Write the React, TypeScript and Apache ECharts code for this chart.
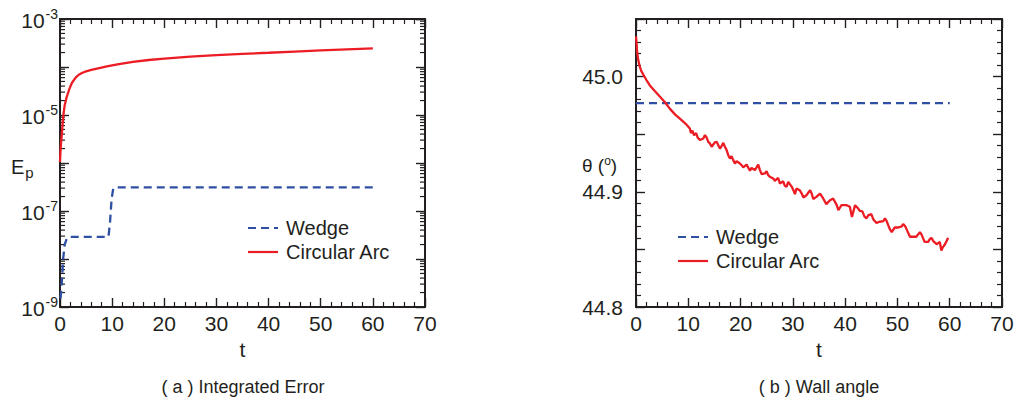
import React, { useEffect, useRef } from "react";
import * as echarts from "echarts";

// ---------- data ----------
const xTickValues = [0, 10, 20, 30, 40, 50, 60, 70];

// Left panel: integrated error E_p vs t (log scale)
const errWedge: [number, number][] = [
  [0.1, 1.5e-9], [0.2, 2.0e-9], [0.4, 4.0e-9], [0.6, 1.0e-8], [0.9, 2.0e-8],
  [1.3, 2.7e-8], [2.0, 2.9e-8], [9.3, 2.9e-8], [9.6, 6.0e-8], [9.9, 1.8e-7],
  [10.2, 2.9e-7], [10.6, 3.1e-7], [60, 3.1e-7],
];
const errArc: [number, number][] = [
  [0, 1.05e-6], [0.1, 1.8e-6], [0.2, 2.6e-6], [0.35, 4.0e-6], [0.5, 6.5e-6],
  [0.65, 1.0e-5], [0.9, 1.6e-5], [1.3, 2.4e-5], [1.8, 3.5e-5], [2.3, 4.7e-5],
  [3.0, 6.0e-5], [3.6, 6.9e-5], [4.3, 7.6e-5], [5.0, 8.1e-5], [6.0, 8.7e-5],
  [7.3, 9.4e-5], [9.0, 1.03e-4], [11, 1.13e-4], [14, 1.28e-4], [17, 1.4e-4],
  [20, 1.5e-4], [25, 1.65e-4], [30, 1.77e-4], [35, 1.88e-4], [40, 1.98e-4],
  [45, 2.1e-4], [50, 2.22e-4], [55, 2.33e-4], [60, 2.45e-4],
];

// Right panel: wall angle theta vs t
const angleWedge: [number, number][] = [[0, 44.977], [60, 44.977]];
const angleArc: [number, number][] = [
  [0, 45.035], [0.1, 45.03], [0.2, 45.022], [0.4, 45.015], [0.7, 45.009],
  [1.0, 45.005], [1.5, 45.001], [2.0, 44.997], [2.7, 44.992], [3.5, 44.988],
  [4.5, 44.983], [5.5, 44.978], [6.5, 44.972], [7.5, 44.967], [8.5, 44.963],
  [9.5, 44.959], [10.3, 44.955], [10.5, 44.951], [10.8, 44.953], [11.1, 44.949],
  [11.5, 44.951], [11.8, 44.947], [12.23, 44.9449], [12.87, 44.9463], [13.19, 44.9492],
  [13.5, 44.9472], [13.82, 44.9434], [14.14, 44.942], [14.46, 44.9391], [15.1, 44.943],
  [15.42, 44.9434], [15.74, 44.9405], [16.05, 44.9376], [16.37, 44.9396], [16.69, 44.9425],
  [17.01, 44.9391], [17.33, 44.9362], [17.65, 44.9318], [17.97, 44.9289], [18.28, 44.9309],
  [18.6, 44.9275], [18.92, 44.9246], [19.24, 44.9265], [19.88, 44.9246], [20.2, 44.9231],
  [20.51, 44.9212], [21.15, 44.9236], [21.79, 44.9183], [22.1, 44.9207], [22.74, 44.9188],
  [23.38, 44.9236], [23.7, 44.9188], [24.02, 44.9154], [24.65, 44.9159], [24.97, 44.9178],
  [25.29, 44.9144], [25.61, 44.913], [26.24, 44.9115], [26.56, 44.9096], [27.2, 44.912],
  [27.52, 44.9072], [28.15, 44.9091], [28.47, 44.9052], [28.79, 44.9043], [29.11, 44.9086],
  [29.8, 44.9043], [30.1, 44.9014], [30.4, 44.898], [30.7, 44.9029], [31.3, 44.9014],
  [31.7, 44.8985], [32.0, 44.8951], [32.6, 44.897], [33.3, 44.9014], [33.6, 44.8985],
  [33.9, 44.8937], [34.5, 44.8956], [35.2, 44.8985], [35.8, 44.8942], [36.4, 44.8893],
  [37.1, 44.8927], [37.7, 44.8942], [38.4, 44.8884], [38.7, 44.884], [39.3, 44.8884],
  [40.3, 44.8884], [40.9, 44.887], [41.3, 44.8782], [41.9, 44.8884], [42.5, 44.8855],
  [42.8, 44.8834], [43.3, 44.883], [43.7, 44.8785], [44.1, 44.877], [44.4, 44.8795],
  [45.0, 44.8806], [45.4, 44.876], [46.0, 44.873], [46.6, 44.874], [47.3, 44.8745],
  [47.6, 44.877], [47.9, 44.875], [48.5, 44.868], [48.9, 44.865], [49.5, 44.869],
  [50.2, 44.869], [50.8, 44.87], [51.1, 44.872], [51.5, 44.87], [52.0, 44.865],
  [52.4, 44.861], [53.6, 44.861], [54.3, 44.865], [54.6, 44.863], [55.2, 44.8565],
  [55.9, 44.8565], [56.2, 44.859], [56.5, 44.86], [56.9, 44.857], [57.5, 44.8545],
  [58.1, 44.8565], [58.4, 44.849], [58.7, 44.852], [59.1, 44.8545], [59.7, 44.86],
];

// log-axis minor tick mantissas and decades (left panel)
const logMantissas = [2, 3, 4, 5, 6, 7, 8, 9];
const logDecades = [-9, -8, -7, -6, -5, -4];

const seriesNames = ["Wedge", "Circular Arc"];
const captions = ["( a ) Integrated Error", "( b ) Wall angle"];

// ---------- styles ----------
const FONT = "'Liberation Sans', Arial, Helvetica, sans-serif";
const INK = "#231f20";
const RED = "#ec1c24";
const BLUE = "#2f4fa2";
const DASH = [8, 5];

export default function App() {
  const ref = useRef<HTMLDivElement>(null);

  useEffect(() => {
    if (!ref.current) return;
    const chart = echarts.init(ref.current, undefined, { renderer: "svg" });

    const minorLogTicks: [number, number][] = [];
    logDecades.forEach((d) => logMantissas.forEach((m) => minorLogTicks.push([0, m * Math.pow(10, d)])));

    const axisLine = { show: true, onZero: false, lineStyle: { color: INK, width: 2 } };
    const tick = { show: true, inside: true, length: 9, lineStyle: { color: INK, width: 1.4 } };
    const minor = { show: true, splitNumber: 5, length: 5, lineStyle: { color: INK, width: 1.2 } };
    const labelStyle = { fontSize: 21, color: INK, fontFamily: FONT };

    const xAxisFor = (gridIndex: number, position: string, show: boolean) => ({
      type: "value",
      gridIndex,
      position,
      min: xTickValues[0],
      max: xTickValues[xTickValues.length - 1],
      interval: 10,
      axisLine,
      axisTick: tick,
      minorTick: minor,
      splitLine: { show: false },
      axisLabel: { show, ...labelStyle, margin: 6 },
      name: show ? "t" : "",
      nameLocation: "middle",
      nameGap: 32,
      nameTextStyle: { ...labelStyle },
    });

    const logAxis = (position: string, show: boolean) => ({
      type: "log",
      logBase: 10,
      gridIndex: 0,
      position,
      min: 1e-9,
      max: 1e-3,
      axisLine,
      axisTick: tick,
      minorTick: { show: false },
      splitLine: { show: false },
      axisLabel: {
        show,
        margin: 2,
        formatter: (v: number) => {
          const e = Math.round(Math.log10(v));
          return e % 2 !== 0 ? `{b|10}{s|${e}}` : "";
        },
        rich: {
          b: { fontSize: 21, color: INK, fontFamily: FONT, padding: [2, 0, 0, 0] },
          s: { fontSize: 14, color: INK, fontFamily: FONT, padding: [0, 0, 10, 1] },
        },
      },
    });

    const angleAxis = (position: string, show: boolean) => ({
      type: "value",
      gridIndex: 1,
      position,
      min: 44.8,
      max: 45.05,
      interval: 0.05,
      axisLine,
      axisTick: tick,
      minorTick: minor,
      splitLine: { show: false },
      axisLabel: {
        show,
        ...labelStyle,
        margin: 13,
        formatter: (v: number) =>
          Math.abs(v * 10 - Math.round(v * 10)) < 1e-6 ? v.toFixed(1) : "",
      },
    });

    const lineSeries = (name: string, xi: number, yi: number, data: [number, number][], dashed: boolean) => ({
      name,
      type: "line",
      xAxisIndex: xi,
      yAxisIndex: yi,
      data,
      symbol: "none",
      z: 5,
      color: dashed ? BLUE : RED,
      itemStyle: { color: dashed ? BLUE : RED },
      lineStyle: { color: dashed ? BLUE : RED, width: 2.3, type: dashed ? DASH : "solid" },
    });

    // hand-drawn legend (line sample + label) for each panel
    const legendGraphic = (x: number, y: number) => [
      { type: "line", shape: { x1: x, y1: y, x2: x + 30, y2: y }, style: { stroke: BLUE, lineWidth: 2.2, lineDash: DASH } },
      { type: "text", x: x + 38, y, style: { text: seriesNames[0], fontSize: 20, fill: INK, fontFamily: FONT, verticalAlign: "middle" } },
      { type: "line", shape: { x1: x, y1: y + 24, x2: x + 30, y2: y + 24 }, style: { stroke: RED, lineWidth: 2.2 } },
      { type: "text", x: x + 38, y: y + 24, style: { text: seriesNames[1], fontSize: 20, fill: INK, fontFamily: FONT, verticalAlign: "middle" } },
    ];

    chart.setOption({
      animation: false,
      backgroundColor: "#ffffff",
      grid: [
        { left: 60, top: 19, width: 365, height: 288 },
        { left: 636, top: 19, width: 366, height: 288 },
      ],
      xAxis: [
        xAxisFor(0, "bottom", true),
        xAxisFor(0, "top", false),
        xAxisFor(1, "bottom", true),
        xAxisFor(1, "top", false),
      ],
      yAxis: [logAxis("left", true), logAxis("right", false), angleAxis("left", true), angleAxis("right", false)],
      series: [
        lineSeries(seriesNames[0], 0, 0, errWedge, true),
        lineSeries(seriesNames[1], 0, 0, errArc, false),
        lineSeries(seriesNames[0], 2, 2, angleWedge, true),
        lineSeries(seriesNames[1], 2, 2, angleArc, false),
        {
          type: "custom",
          xAxisIndex: 0,
          yAxisIndex: 0,
          silent: true,
          z: 1,
          data: minorLogTicks,
          renderItem: (_p: any, api: any) => {
            const v = api.value(1);
            const l = api.coord([xTickValues[0], v]);
            const r = api.coord([xTickValues[xTickValues.length - 1], v]);
            return {
              type: "group",
              children: [
                { type: "line", shape: { x1: l[0], y1: l[1], x2: l[0] + 5, y2: l[1] }, style: { stroke: INK, lineWidth: 1.2 } },
                { type: "line", shape: { x1: r[0], y1: r[1], x2: r[0] - 5, y2: r[1] }, style: { stroke: INK, lineWidth: 1.2 } },
              ],
            };
          },
        },
      ],
      graphic: [
        ...legendGraphic(248, 228),
        ...legendGraphic(678, 237),
        {
          type: "text",
          x: 11,
          y: 167,
          style: {
            text: "{e|E}{p|p}",
            verticalAlign: "middle",
            rich: {
              e: { fontSize: 20, fill: INK, fontFamily: FONT },
              p: { fontSize: 15, fill: INK, fontFamily: FONT, padding: [10, 0, 0, 1] },
            },
          },
        },
        {
          type: "text",
          x: 582,
          y: 165,
          style: {
            text: "{a|θ (}{s|o}{a|)}",
            verticalAlign: "middle",
            rich: {
              a: { fontSize: 19, fill: INK, fontFamily: FONT },
              s: { fontSize: 12, fill: INK, fontFamily: FONT, padding: [0, 0, 8, 0] },
            },
          },
        },
        {
          type: "text",
          x: 243,
          y: 387,
          style: { text: captions[0], fontSize: 18, fill: INK, fontFamily: FONT, align: "center", verticalAlign: "middle" },
        },
        {
          type: "text",
          x: 819,
          y: 387,
          style: { text: captions[1], fontSize: 18, fill: INK, fontFamily: FONT, align: "center", verticalAlign: "middle" },
        },
      ],
    });

    return () => chart.dispose();
  }, []);

  return (
    <div
      ref={ref}
      style={{ position: "absolute", left: 0, top: 0, width: 1017, height: 401, background: "#fff" }}
    />
  );
}
